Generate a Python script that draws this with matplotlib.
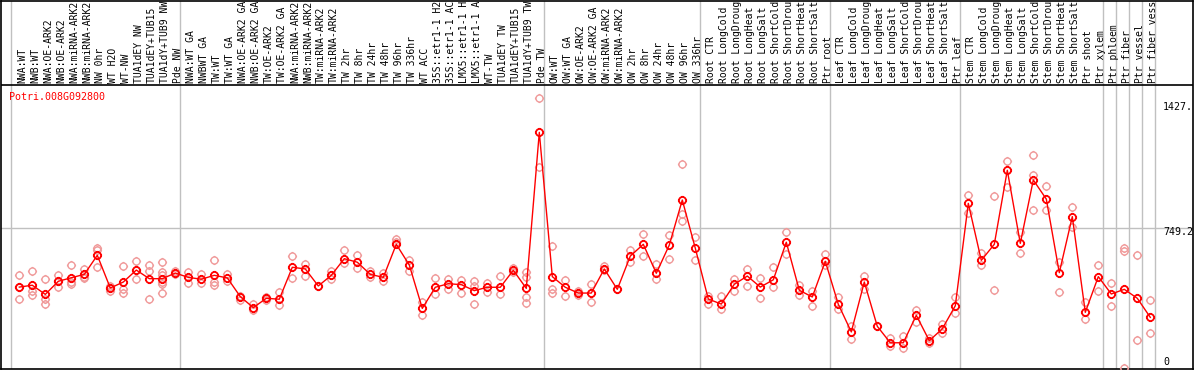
import matplotlib
matplotlib.use("Agg")
import matplotlib.pyplot as plt
from matplotlib.path import Path

# sample labels, grouped the way the vertical separators split them
nw_labels = ["NWA:WT", "NWB:WT", "NWA:OE-ARK2", "NWB:OE-ARK2", "NWA:miRNA-ARK2",
             "NWB:miRNA-ARK2", "NW 0hr", "WT H2O", "WT-NW", "TUA1dEY NW",
             "TUA1dEY+TUB15", "TUA1dY+TUB9 NW", "Pde NW"]
tw_labels = ["NWA:WT GA", "NWBWT GA", "TW:WT", "TW:WT GA", "NWA:OE-ARK2 GA",
             "NWB:OE-ARK2 GA", "TW:OE-ARK2", "TW:OE-ARK2 GA", "NWA:miRNA-ARK2",
             "NWB:miRNA-ARK2", "TW:miRNA-ARK2", "TW:miRNA-ARK2", "TW 2hr", "TW 8hr",
             "TW 24hr", "TW 48hr", "TW 96hr", "TW 336hr", "WT ACC", "35S::etr1-1 H2O",
             "35S::etr1-1 ACC", "LMX5::etr1-1 H2O", "LMX5::etr1-1 ACC", "WT-TW",
             "TUA1dEY TW", "TUA1dEY+TUB15", "TUA1dY+TUB9 TW", "Pde TW"]
ow_labels = ["OW:WT", "OW:WT GA", "OW:OE-ARK2", "OW:OE-ARK2 GA", "OW:miRNA-ARK2",
             "OW:miRNA-ARK2", "OW 2hr", "OW 8hr", "OW 24hr", "OW 48hr", "OW 96hr",
             "OW 336hr"]
root_labels = ["Root CTR", "Root LongCold", "Root LongDrought", "Root LongHeat",
               "Root LongSalt", "Root ShortCold", "Root ShortDrought", "Root ShortHeat",
               "Root ShortSalt", "Ptr root"]
leaf_labels = ["Leaf CTR", "Leaf LongCold", "Leaf LongDrought", "Leaf LongHeat",
               "Leaf LongSalt", "Leaf ShortCold", "Leaf ShortDrought", "Leaf ShortHeat",
               "Leaf ShortSalt", "Ptr leaf"]
stem_labels = ["Stem CTR", "Stem LongCold", "Stem LongDrought", "Stem LongHeat",
               "Stem LongSalt", "Stem ShortCold", "Stem ShortDrought", "Stem ShortHeat",
               "Stem ShortSalt", "Ptr shoot", "Ptr xylem"]
tissue_labels = ["Ptr phloem", "Ptr fiber", "Ptr vessel", "Ptr fiber vessel"]

groups = [nw_labels, tw_labels, ow_labels, root_labels, leaf_labels, stem_labels,
          ["Ptr phloem"], ["Ptr fiber"], ["Ptr vessel"], ["Ptr fiber vessel"]]
labels = nw_labels + tw_labels + ow_labels + root_labels + leaf_labels + stem_labels + tissue_labels

# mean expression per sample
means = [433, 443, 394, 464, 483, 501, 603, 428, 460, 524, 478, 478, 508,
         485, 475, 496, 482, 382, 323, 373, 368, 539, 530, 439, 496, 585, 566, 501,
         485, 662, 551, 319, 432, 451, 446, 414, 432, 432, 523, 426, 1261,
         489, 432, 401, 401, 530, 421, 599, 662, 507, 658, 899, 641,
         369, 342, 448, 492, 433, 472, 673, 416, 380, 571,
         341, 193, 460, 223, 135, 135, 282, 146, 210, 333,
         881, 576, 662, 1058, 667, 1006, 904, 510, 810, 298, 489,
         396, 421, 373, 271]

# replicate values per sample
reps = [[496, 432, 371], [517, 414, 391], [475, 369, 342], [496, 432, 464],
        [551, 462, 448], [531, 489, 480], [644, 631, 540], [439, 414, 428],
        [544, 421, 403], [571, 478, 524], [551, 517, 368],
        [567, 515, 498, 462, 448, 400], [521, 501],
        [512, 456], [505, 453], [576, 462, 446], [501, 466], [387, 364], [342, 310],
        [380, 366], [405, 336], [599, 482], [558, 494], [439], [521, 476], [630, 560],
        [605, 537], [521, 485], [510, 467], [690, 672], [576, 519], [352, 285],
        [482, 396], [476, 424], [471, 400], [464, 440, 342], [456, 405], [494, 396],
        [533, 513], [515, 489, 382, 349], [1443, 1077],
        [653, 421, 400], [472, 384], [412, 392], [449, 352], [546, 524], [421],
        [630, 566], [717, 599], [555, 475], [712, 582], [1090, 824, 785], [701, 576],
        [385, 341], [384, 314], [476, 414], [530, 437], [480, 376], [540, 432],
        [728, 610], [444, 389], [412, 330], [610, 550],
        [380, 314], [225, 154], [492, 421], [223], [162, 118], [171, 109], [309, 245],
        [159, 135], [234, 186], [382, 293],
        [924, 828], [614, 551], [919, 416], [1108, 970], [726, 614], [1138, 1033, 844],
        [972, 844], [569, 407], [862, 753], [355, 264], [551, 412],
        [455, 330], [644, 626, 0], [605, 150], [364, 186]]

gene = "Potri.008G092800"
ref_value = 749.2
axis_texts = ["1427.", "749.2", "0"]

# circle with four small ticks, like the original markers
circ = Path.unit_circle()
tick = Path([(0, 1), (0, 1.3), (0, -1), (0, -1.3), (1, 0), (1.3, 0), (-1, 0), (-1.3, 0)],
            [Path.MOVETO, Path.LINETO] * 4)
marker = Path.make_compound_path(circ, tick)

W, H = 1194, 370
fig = plt.figure(figsize=(W / 100, H / 100), dpi=100)
ax = fig.add_axes([1 / W, 1 / H, 1192 / W, 368.5 / H])

# pixel <-> data mapping: column i centred at 19.3 + 13*i px, value 0 at 368 px
ppu = 5.351
ax.set_xlim((1 - 19.3) / 13, (1193 - 19.3) / 13)
ax.set_ylim((368 - 369) * ppu, (368 - 0.5) * ppu)
ax.set_xticks([])
ax.set_yticks([])
for s in ax.spines.values():
    s.set_color("black")
    s.set_linewidth(1.2)

grey = "#c0c0c0"
start = 0
for g in groups:
    ax.axvline(start - 0.64, color=grey, lw=1, zorder=1)
    start += len(g)
ax.axvline(start - 0.64, color=grey, lw=1, zorder=1)
ax.axhline(ref_value, color=grey, lw=1, zorder=1)
ax.axhline((368 - 85) * ppu, color="black", lw=1.2, zorder=2)

# header is only tall enough for ~14 characters, as in the original
mono = "DejaVu Sans Mono"
for i, lab in enumerate(labels):
    ax.text(i + 0.2, (368 - 82.5) * ppu, lab[:14], rotation=90, ha="center", va="bottom",
            family=mono, fontsize=7.0, color="black")

x = list(range(len(means)))
for i, r in enumerate(reps):
    ax.plot([i] * len(r), r, linestyle="none", marker=marker, markersize=6.6,
            markerfacecolor="none", markeredgecolor="#f09a9a", markeredgewidth=1.0,
            zorder=3)
ax.plot(x, means, color="red", lw=1, marker=marker, markersize=6.6,
        markerfacecolor="none", markeredgecolor="red", markeredgewidth=1.3, zorder=4)

ax.text(-0.77, (368 - 97) * ppu, gene, color="red", family=mono, fontsize=7.2,
        ha="left", va="center")
for txt, ypx in zip(axis_texts, [107, 232, 362]):
    ax.text(87.98, (368 - ypx) * ppu, txt, family=mono, fontsize=7.2, ha="left",
            va="center", color="black")

fig.savefig("out.png", dpi=100)
